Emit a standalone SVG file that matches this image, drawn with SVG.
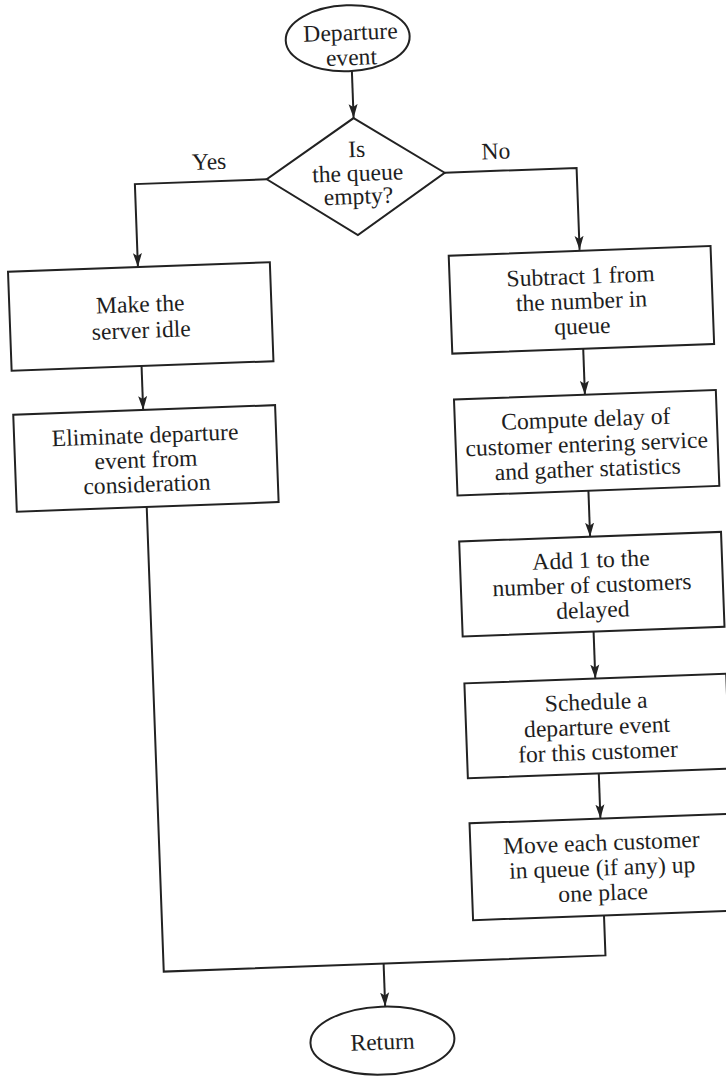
<svg xmlns="http://www.w3.org/2000/svg" width="726" height="1076" viewBox="0 0 726 1076">
  <style>
    .shape { fill: #ffffff; stroke: #222222; stroke-width: 2; }
    .wire { fill: none; stroke: #222222; stroke-width: 2; }
    text { font-family: "Liberation Serif", "Times New Roman", serif; font-size: 23.6px; fill: #1e1e1e; text-anchor: middle; }
  </style>
  <defs>
    <marker id="arrow" markerUnits="userSpaceOnUse" markerWidth="14" markerHeight="10" refX="14" refY="5" orient="auto">
      <path d="M0,0.5 L14,5 L0,9.5 L3,5 z" fill="#222222"/>
    </marker>
  </defs>
  <rect x="0" y="0" width="726" height="1076" fill="#ffffff"/>

  <!-- whole chart is laid out on a grid, then tilted slightly -->
  <g transform="rotate(-2.1 363 538)">

    <g id="connectors">
      <line class="wire" x1="369" y1="71" x2="369" y2="118" marker-end="url(#arrow)"/>
      <polyline class="wire" points="280,176 148,176 148,259" marker-end="url(#arrow)"/>
      <polyline class="wire" points="458,176 590,176 590,258" marker-end="url(#arrow)"/>
      <line class="wire" x1="148" y1="358" x2="148" y2="402" marker-end="url(#arrow)"/>
      <line class="wire" x1="590" y1="357" x2="590" y2="403" marker-end="url(#arrow)"/>
      <line class="wire" x1="590" y1="499" x2="590" y2="545" marker-end="url(#arrow)"/>
      <line class="wire" x1="590" y1="640" x2="590" y2="687" marker-end="url(#arrow)"/>
      <line class="wire" x1="590" y1="782" x2="590" y2="827" marker-end="url(#arrow)"/>
      <polyline class="wire" points="148,499 148,964 590,964 590,924"/>
      <line class="wire" x1="368" y1="964" x2="368" y2="1007" marker-end="url(#arrow)"/>
    </g>

    <g id="start">
      <ellipse class="shape" cx="366" cy="38" rx="62" ry="33"/>
      <text x="369" y="40">Departure</text>
      <text x="369" y="65">event</text>
    </g>

    <g id="decision">
      <polygon class="shape" points="369,118 458,176 369,235 280,176"/>
      <text x="371" y="157">Is</text>
      <text x="371" y="181">the queue</text>
      <text x="371" y="204">empty?</text>
    </g>

    <g id="label-yes">
      <text x="223" y="164">Yes</text>
    </g>
    <g id="label-no">
      <text x="510" y="164">No</text>
    </g>

    <g id="idle-server">
      <rect class="shape" x="18" y="259" width="262" height="99"/>
      <text x="149" y="304">Make the</text>
      <text x="149" y="330">server idle</text>
    </g>

    <g id="eliminate-departure">
      <rect class="shape" x="18" y="402" width="262" height="97"/>
      <text x="149" y="435">Eliminate departure</text>
      <text x="149" y="459.5">event from</text>
      <text x="149" y="484">consideration</text>
    </g>

    <g id="subtract-queue">
      <rect class="shape" x="459" y="259" width="262" height="98"/>
      <text x="590" y="292">Subtract 1 from</text>
      <text x="590" y="317">the number in</text>
      <text x="590" y="342">queue</text>
    </g>

    <g id="compute-delay">
      <rect class="shape" x="459" y="403" width="262" height="96"/>
      <text x="590" y="435">Compute delay of</text>
      <text x="590" y="460">customer entering service</text>
      <text x="590" y="485">and gather statistics</text>
    </g>

    <g id="count-delayed">
      <rect class="shape" x="459" y="545" width="262" height="95"/>
      <text x="590" y="576">Add 1 to the</text>
      <text x="590" y="601">number of customers</text>
      <text x="590" y="626">delayed</text>
    </g>

    <g id="schedule-departure">
      <rect class="shape" x="459" y="687" width="262" height="95"/>
      <text x="590" y="718">Schedule a</text>
      <text x="590" y="743">departure event</text>
      <text x="590" y="768">for this customer</text>
    </g>

    <g id="shift-queue">
      <rect class="shape" x="459" y="827" width="262" height="97"/>
      <text x="590" y="859">Move each customer</text>
      <text x="590" y="884">in queue (if any) up</text>
      <text x="590" y="909">one place</text>
    </g>

    <g id="return">
      <ellipse class="shape" cx="364" cy="1041" rx="72" ry="34"/>
      <text x="364" y="1050">Return</text>
    </g>

  </g>
</svg>
